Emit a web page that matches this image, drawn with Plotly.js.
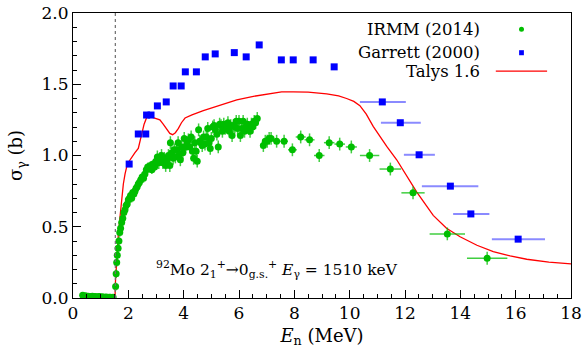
<!DOCTYPE html>
<html>
<head>
<meta charset="utf-8">
<script src="https://cdn.plot.ly/plotly-3.0.1.min.js"></script>
<style>
html,body{margin:0;padding:0;background:#fff;}
#chart{width:586px;height:358px;}
</style>
</head>
<body>
<div id="chart"></div>
<script>
// IRMM (2014) data
var irmmX = [0.35,0.40,0.45,0.50,0.55,0.60,0.65,0.70,0.75,0.80,0.85,0.90,0.95,1.00,1.05,1.10,1.15,1.20,1.25,1.30,1.35,1.40,1.45,
  1.54,1.56,1.58,1.60,1.63,1.66,1.69,1.72,1.76,1.80,1.84,1.88,1.92,1.96,2.00,2.04,2.08,2.12,2.16,2.20,2.24,2.28,2.32,2.36,2.40,2.45,2.50,2.55,2.60,2.65,2.70,2.75,2.80,2.85,2.90,2.95,
  3.00,3.05,3.10,3.15,3.20,3.25,3.30,3.35,3.40,3.45,3.50,3.52,3.57,3.62,3.66,3.70,3.75,3.80,3.85,3.88,3.93,3.97,
  4.02,4.07,4.12,4.17,4.22,4.27,4.32,4.36,4.40,4.45,4.49,4.54,4.58,4.62,4.67,4.72,4.77,4.82,4.87,4.92,4.96,
  5.00,5.05,5.10,5.15,5.20,5.25,5.30,5.35,5.40,5.45,5.50,5.55,5.60,5.65,5.70,5.75,5.80,5.85,5.90,5.95,
  6.00,6.05,6.10,6.15,6.20,6.25,6.30,6.35,6.40,6.45,6.50,6.55,6.60,6.66,
  6.88,6.95,7.02,7.09,7.16,7.36,7.63,7.93,8.23,8.55,8.90,9.26,9.64,10.06,10.72,11.47,12.29,13.53,14.97];
var irmmY = [0.020,0.010,0.015,0.010,0.012,0.008,0.010,0.012,0.008,0.010,0.006,0.008,0.010,0.005,0.008,0.006,0.005,0.007,0.004,0.006,0.005,0.004,0.006,
  0.08,0.17,0.25,0.30,0.35,0.40,0.46,0.49,0.53,0.56,0.60,0.62,0.65,0.66,0.69,0.70,0.72,0.70,0.74,0.73,0.75,0.77,0.78,0.80,0.81,0.83,0.85,0.84,0.87,0.90,0.92,0.91,0.93,0.90,0.94,0.92,
  0.96,0.99,0.95,0.98,1.00,0.95,0.98,0.93,0.97,1.00,0.93,1.09,1.02,0.98,1.04,0.99,1.04,1.09,1.01,0.97,1.06,1.02,
  1.12,1.06,1.08,1.11,1.06,1.13,1.03,0.98,1.09,1.03,0.96,1.18,1.10,1.09,1.07,1.13,1.08,1.13,1.19,1.09,1.05,
  1.12,1.20,1.21,1.18,1.15,1.06,1.22,1.21,1.17,1.22,1.19,1.20,1.23,1.17,1.21,1.14,1.21,1.20,1.24,1.19,
  1.24,1.14,1.19,1.24,1.17,1.20,1.22,1.19,1.17,1.22,1.20,1.24,1.23,1.26,
  1.07,1.10,1.10,1.12,1.12,1.10,1.10,1.04,1.13,1.11,1.00,1.09,1.08,1.06,1.00,0.905,0.738,0.450,0.279];
var irmmXerrHigh = [0.10,0.10,0.10,0.10,0.10,0.12,0.14,0.16,0.18,0.18,0.19,0.19,0.19,0.20,0.35,0.39,0.42,0.64,0.73];

// Garrett (2000) data
var garX = [2.03,2.36,2.63,2.66,2.82,3.05,3.37,3.62,3.91,4.06,4.46,4.78,5.14,5.83,6.26,6.73,7.53,7.96,8.68,9.44,11.18,11.83,12.51,13.64,14.38,16.09];
var garY = [0.940,1.151,1.151,1.284,1.284,1.348,1.376,1.488,1.488,1.587,1.587,1.692,1.713,1.722,1.692,1.776,1.671,1.671,1.671,1.622,1.376,1.230,1.005,0.785,0.590,0.413];
var garXlo = [0,0,0,0,0,0,0,0,0,0,0,0,0,0,0,0,0,0,0,0,10.37,11.13,11.96,12.61,13.74,15.14];
var garXhi = [0,0,0,0,0,0,0,0,0,0,0,0,0,0,0,0,0,0,0,0,12.03,12.57,13.08,14.65,15.05,17.06];

// Talys 1.6
var talysX = [1.04,1.52,1.53,1.58,1.64,1.70,1.76,1.82,1.88,1.94,2.03,2.12,2.24,2.36,2.42,2.48,2.57,2.66,2.72,2.84,2.96,3.05,3.14,3.26,3.39,3.50,3.60,3.70,3.81,3.92,4.05,4.30,4.71,5.31,5.92,6.52,7.12,7.54,7.96,8.50,9.17,9.60,9.89,10.15,10.37,10.60,10.85,11.10,11.34,11.70,12.05,12.42,13.02,13.50,13.99,14.60,15.19,15.80,16.40,17.20,18.0];
var talysY = [0.0,0.0,0.10,0.30,0.45,0.57,0.70,0.80,0.87,0.92,0.96,0.99,1.02,1.05,1.10,1.16,1.22,1.265,1.275,1.27,1.263,1.258,1.25,1.22,1.18,1.155,1.146,1.16,1.19,1.23,1.263,1.285,1.315,1.35,1.39,1.415,1.432,1.446,1.446,1.445,1.432,1.418,1.40,1.38,1.35,1.29,1.204,1.13,1.064,0.97,0.86,0.745,0.58,0.49,0.43,0.37,0.325,0.295,0.272,0.252,0.239];

var threshold = 1.53;

var irmmXerr = irmmX.map(function(x, i){
  var k = i - (irmmX.length - irmmXerrHigh.length);
  return k >= 0 ? irmmXerrHigh[k] : 0.03;
});
var irmmYerr = irmmX.map(function(x){ return x < 1.5 ? 0.008 : (x < 3 ? 0.03 : 0.045); });
var garXp = garX.map(function(x,i){ return garXhi[i] ? garXhi[i]-x : 0; });
var garXm = garX.map(function(x,i){ return garXlo[i] ? x-garXlo[i] : 0; });

var green = 'rgb(0,190,0)';
var blue = 'rgb(0,0,255)';
var red = 'rgb(255,0,0)';

var traces = [
  {x: talysX, y: talysY, mode: 'lines', line: {color: red, width: 1.3}, type: 'scatter', showlegend: false, hoverinfo: 'skip'},
  {x: irmmX, y: irmmY, mode: 'markers', type: 'scatter', showlegend: false,
   marker: {color: green, size: 7, symbol: 'circle'},
   error_x: {type: 'data', array: irmmXerr, color: 'rgba(0,190,0,0.75)', thickness: 1.5, width: 0},
   error_y: {type: 'data', array: irmmYerr, color: 'rgba(0,190,0,0.75)', thickness: 1.5, width: 0}},
  {x: garX, y: garY, mode: 'markers', type: 'scatter', showlegend: false,
   marker: {color: blue, size: 7, symbol: 'square'},
   error_x: {type: 'data', symmetric: false, array: garXp, arrayminus: garXm, color: 'rgba(60,60,255,0.6)', thickness: 2, width: 0}}
];

var serif = 'DejaVu Serif';

var layout = {
  width: 586, height: 358,
  margin: {l: 73, r: 15, t: 13, b: 60},
  paper_bgcolor: '#fff', plot_bgcolor: '#fff',
  font: {family: serif, size: 17, color: '#000'},
  showlegend: false,
  xaxis: {range: [0, 18], dtick: 2, tick0: 0, showgrid: false, zeroline: false,
    showline: true, mirror: true, linecolor: '#000', linewidth: 1,
    ticks: 'inside', ticklen: 8, tickcolor: '#000',
    minor: {dtick: 0.5, ticks: 'inside', ticklen: 4, tickcolor: '#000', showgrid: false},
    tickfont: {family: serif, size: 17},
    title: {text: '<i>E</i><sub>n</sub> (MeV)', font: {family: serif, size: 18}, standoff: 6}},
  yaxis: {range: [0, 2], dtick: 0.5, tick0: 0, showgrid: false, zeroline: false,
    showline: true, mirror: true, linecolor: '#000', linewidth: 1,
    ticks: 'inside', ticklen: 8, tickcolor: '#000', tickformat: '.1f',
    minor: {dtick: 0.1, ticks: 'inside', ticklen: 4, tickcolor: '#000', showgrid: false},
    tickfont: {family: serif, size: 17},
    title: {text: 'σ<sub>γ</sub> (b)', font: {family: serif, size: 18}, standoff: 14}},
  shapes: [
    {type: 'line', xref: 'x', yref: 'paper', x0: threshold, x1: threshold, y0: 0, y1: 1,
     line: {color: 'rgb(110,110,110)', width: 1.2, dash: 'dot'}},
    {type: 'circle', xref: 'paper', yref: 'paper', x0: 0.8956, x1: 0.9056, y0: 0.9338, y1: 0.9515,
     fillcolor: green, line: {width: 0}},
    {type: 'rect', xref: 'paper', yref: 'paper', x0: 0.8958, x1: 0.9054, y0: 0.8518, y1: 0.8695,
     fillcolor: blue, line: {width: 0}},
    {type: 'line', xref: 'paper', yref: 'paper', x0: 0.849, x1: 0.952, y0: 0.7958, y1: 0.7958,
     line: {color: red, width: 1.3}}
  ],
  annotations: [
    {xref: 'paper', yref: 'paper', x: 0.822, y: 0.9427, xanchor: 'right', yanchor: 'middle', showarrow: false,
     text: 'IRMM (2014)', font: {family: serif, size: 16.5}},
    {xref: 'paper', yref: 'paper', x: 0.822, y: 0.8607, xanchor: 'right', yanchor: 'middle', showarrow: false,
     text: 'Garrett (2000)', font: {family: serif, size: 16.5}},
    {xref: 'paper', yref: 'paper', x: 0.822, y: 0.7958, xanchor: 'right', yanchor: 'middle', showarrow: false,
     text: 'Talys 1.6', font: {family: serif, size: 16.5}},
    {xref: 'paper', yref: 'paper', x: 0.163, y: 0.10, xanchor: 'left', yanchor: 'middle', showarrow: false,
     text: '<sup>92</sup>Mo 2<sub>1</sub><sup>+</sup>→0<sub>g.s.</sub><sup>+</sup> <i>E</i><sub>γ</sub> = 1510 keV', font: {family: serif, size: 15.5}}
  ]
};

Plotly.newPlot('chart', traces, layout, {displayModeBar: false, staticPlot: true});
</script>
</body>
</html>
